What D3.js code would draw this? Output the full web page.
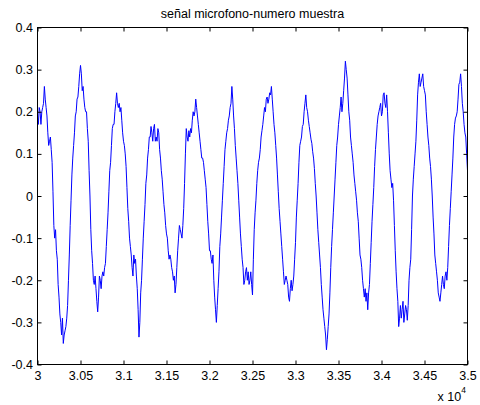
<!DOCTYPE html>
<html>
<head>
<meta charset="utf-8">
<script src="https://cdn.jsdelivr.net/npm/d3@7"></script>
<style>
  html, body { margin: 0; padding: 0; background: #fff; }
  svg { display: block; }
  text { font-family: "Liberation Sans", Arial, Helvetica, sans-serif; fill: #000; }
</style>
</head>
<body>
<svg id="chart" width="480" height="405"></svg>
<script>
// Microphone signal against sample number
const chartTitle = "señal microfono-numero muestra";

// Samples 30000..35000, one stored value every 10 samples
const firstSample = 30000;
const sampleStride = 10;
const amplitude = [
  0.19, 0.17, 0.21, 0.2, 0.17, 0.2, 0.21, 0.22, 0.26, 0.23, 0.21, 0.19, 0.15, 0.12, 0.13, 0.14, 0.11, 0.08, 0.01, -0.07,
  -0.10, -0.08, -0.13, -0.15, -0.21, -0.24, -0.28, -0.3, -0.33, -0.29, -0.35, -0.33, -0.32, -0.31, -0.29, -0.26, -0.20, -0.14, -0.07, -0.01,
  0.05, 0.09, 0.12, 0.15, 0.19, 0.2, 0.23, 0.235, 0.26, 0.29, 0.31, 0.29, 0.25, 0.26, 0.23, 0.21, 0.20, 0.2, 0.16, 0.13,
  0.06, 0.0, -0.08, -0.13, -0.16, -0.2, -0.21, -0.19, -0.22, -0.25, -0.275, -0.24, -0.19, -0.2, -0.22, -0.19, -0.18, -0.19, -0.17, -0.16,
  -0.12, -0.08, -0.04, 0.01, 0.06, 0.08, 0.12, 0.16, 0.17, 0.17, 0.20, 0.22, 0.245, 0.22, 0.21, 0.22, 0.20, 0.21, 0.18, 0.15,
  0.13, 0.12, 0.10, 0.07, 0.02, -0.03, -0.06, -0.1, -0.12, -0.14, -0.17, -0.19, -0.14, -0.16, -0.15, -0.19, -0.22, -0.27, -0.335, -0.3,
  -0.23, -0.2, -0.15, -0.1, -0.06, -0.02, 0.03, 0.05, 0.09, 0.11, 0.14, 0.14, 0.165, 0.15, 0.13, 0.16, 0.17, 0.13, 0.14, 0.13,
  0.16, 0.15, 0.11, 0.09, 0.06, 0.04, 0.01, -0.02, -0.04, -0.07, -0.09, -0.1, -0.13, -0.15, -0.14, -0.15, -0.17, -0.18, -0.20, -0.19,
  -0.23, -0.21, -0.17, -0.13, -0.10, -0.07, -0.08, -0.09, -0.10, -0.07, -0.03, 0.03, 0.10, 0.16, 0.14, 0.13, 0.155, 0.14, 0.16, 0.15,
  0.18, 0.2, 0.19, 0.2, 0.23, 0.21, 0.19, 0.17, 0.15, 0.13, 0.11, 0.09, 0.09, 0.08, 0.06, 0.04, 0.02, -0.02, -0.06, -0.09,
  -0.13, -0.13, -0.15, -0.16, -0.14, -0.2, -0.24, -0.27, -0.30, -0.26, -0.22, -0.18, -0.12, -0.09, -0.05, -0.01, 0.03, 0.07, 0.11, 0.13,
  0.15, 0.16, 0.18, 0.19, 0.21, 0.22, 0.26, 0.23, 0.19, 0.16, 0.12, 0.09, 0.06, 0.03, -0.01, -0.05, -0.09, -0.12, -0.15, -0.17,
  -0.21, -0.2, -0.18, -0.17, -0.20, -0.18, -0.21, -0.2, -0.18, -0.21, -0.235, -0.15, -0.08, -0.04, -0.01, 0.03, 0.06, 0.08, 0.09, 0.11,
  0.14, 0.155, 0.17, 0.19, 0.21, 0.2, 0.23, 0.235, 0.22, 0.23, 0.245, 0.24, 0.26, 0.23, 0.20, 0.17, 0.15, 0.12, 0.09, 0.05,
  0.01, -0.03, -0.06, -0.09, -0.12, -0.15, -0.18, -0.21, -0.20, -0.19, -0.20, -0.21, -0.24, -0.25, -0.22, -0.2, -0.225, -0.21, -0.19, -0.15,
  -0.11, -0.05, -0.01, 0.03, 0.08, 0.12, 0.13, 0.14, 0.165, 0.17, 0.20, 0.22, 0.24, 0.21, 0.20, 0.18, 0.165, 0.15, 0.135, 0.125,
  0.105, 0.09, 0.065, 0.03, 0.00, -0.04, -0.08, -0.11, -0.14, -0.17, -0.21, -0.24, -0.27, -0.29, -0.31, -0.33, -0.365, -0.34, -0.31, -0.28,
  -0.23, -0.17, -0.12, -0.08, -0.04, 0.0, 0.04, 0.08, 0.12, 0.14, 0.17, 0.19, 0.21, 0.235, 0.20, 0.22, 0.25, 0.28, 0.32, 0.3,
  0.28, 0.24, 0.20, 0.18, 0.14, 0.12, 0.10, 0.08, 0.05, 0.03, 0.01, -0.01, -0.04, -0.06, -0.10, -0.14, -0.15, -0.17, -0.20, -0.22,
  -0.24, -0.22, -0.25, -0.23, -0.27, -0.23, -0.21, -0.16, -0.11, -0.06, -0.02, 0.02, 0.07, 0.11, 0.14, 0.17, 0.19, 0.2, 0.21, 0.22,
  0.19, 0.2, 0.24, 0.245, 0.22, 0.21, 0.24, 0.2, 0.15, 0.1, 0.06, 0.04, 0.02, 0.03, -0.01, -0.07, -0.13, -0.18, -0.22, -0.25,
  -0.31, -0.29, -0.26, -0.29, -0.27, -0.25, -0.30, -0.28, -0.26, -0.27, -0.295, -0.26, -0.20, -0.17, -0.15, -0.08, 0.00, 0.04, 0.07, 0.1,
  0.13, 0.18, 0.24, 0.27, 0.29, 0.26, 0.27, 0.28, 0.29, 0.26, 0.25, 0.24, 0.20, 0.17, 0.14, 0.12, 0.09, 0.07, 0.04, 0.0,
  -0.05, -0.09, -0.14, -0.16, -0.18, -0.2, -0.23, -0.24, -0.25, -0.23, -0.21, -0.19, -0.21, -0.22, -0.19, -0.18, -0.20, -0.17, -0.12, -0.07,
  -0.03, 0.01, 0.05, 0.09, 0.14, 0.17, 0.185, 0.19, 0.20, 0.23, 0.265, 0.27, 0.29, 0.26, 0.22, 0.2, 0.17, 0.15, 0.14, 0.1,
  0.06
];

const xTickValues = [30000, 30500, 31000, 31500, 32000, 32500, 33000, 33500, 34000, 34500, 35000];
const xTickLabels = ["3", "3.05", "3.1", "3.15", "3.2", "3.25", "3.3", "3.35", "3.4", "3.45", "3.5"];
const yTickValues = [-0.4, -0.3, -0.2, -0.1, 0, 0.1, 0.2, 0.3, 0.4];
const yTickLabels = ["-0.4", "-0.3", "-0.2", "-0.1", "0", "0.1", "0.2", "0.3", "0.4"];
const xScaleBase = "x 10";
const xScaleExponent = "4";

const fontSize = 12.5;
const box = { left: 37.5, right: 467.5, top: 27.5, bottom: 364.5 };
const tickLen = 4;

const svg = d3.select("#chart");

const x = d3.scaleLinear().domain([30000, 35000]).range([box.left, box.right]);
const y = d3.scaleLinear().domain([-0.4, 0.4]).range([box.bottom, box.top]);

const samples = amplitude.map((v, i) => ({ n: firstSample + i * sampleStride, v }));

// signal trace, clipped to the axes box
svg.append("defs").append("clipPath").attr("id", "plotClip")
  .append("rect")
  .attr("x", box.left).attr("y", box.top)
  .attr("width", box.right - box.left).attr("height", box.bottom - box.top);

const line = d3.line().x(d => x(d.n)).y(d => y(d.v));
svg.append("path")
  .datum(samples)
  .attr("clip-path", "url(#plotClip)")
  .attr("fill", "none")
  .attr("stroke", "#0000ff")
  .attr("stroke-width", 1)
  .attr("stroke-linejoin", "round")
  .attr("d", line);

// axes with inward ticks on all four sides
function styleAxis(g) {
  g.select(".domain").remove();
  g.selectAll(".tick line").attr("stroke", "#000").attr("stroke-width", 1);
  g.selectAll(".tick text").attr("font-size", fontSize).attr("fill", "#000");
}

svg.append("g")
  .attr("transform", `translate(0,${box.bottom})`)
  .call(d3.axisBottom(x).tickValues(xTickValues).tickFormat((d, i) => xTickLabels[i])
    .tickSizeInner(-tickLen).tickSizeOuter(0).tickPadding(6.5))
  .call(styleAxis)
  .attr("font-family", null);

svg.append("g")
  .attr("transform", `translate(0,${box.top})`)
  .call(d3.axisTop(x).tickValues(xTickValues).tickFormat("")
    .tickSizeInner(-tickLen).tickSizeOuter(0))
  .call(styleAxis)
  .attr("font-family", null);

svg.append("g")
  .attr("transform", `translate(${box.left},0)`)
  .call(d3.axisLeft(y).tickValues(yTickValues).tickFormat((d, i) => yTickLabels[i])
    .tickSizeInner(-tickLen).tickSizeOuter(0).tickPadding(4.5))
  .call(styleAxis)
  .attr("font-family", null);

svg.append("g")
  .attr("transform", `translate(${box.right},0)`)
  .call(d3.axisRight(y).tickValues(yTickValues).tickFormat("")
    .tickSizeInner(-tickLen).tickSizeOuter(0))
  .call(styleAxis)
  .attr("font-family", null);

// frame
svg.append("rect")
  .attr("x", box.left).attr("y", box.top)
  .attr("width", box.right - box.left).attr("height", box.bottom - box.top)
  .attr("fill", "none").attr("stroke", "#000").attr("stroke-width", 1);

// title
svg.append("text")
  .attr("x", (box.left + box.right) / 2)
  .attr("y", 18)
  .attr("text-anchor", "middle")
  .attr("font-size", fontSize)
  .text(chartTitle);

// x-axis multiplier
const mult = svg.append("text")
  .attr("x", 437.5)
  .attr("y", 401)
  .attr("font-size", fontSize);
mult.append("tspan").text(xScaleBase);
mult.append("tspan").attr("dy", -8).attr("font-size", 8.5).text(xScaleExponent);
</script>
</body>
</html>
